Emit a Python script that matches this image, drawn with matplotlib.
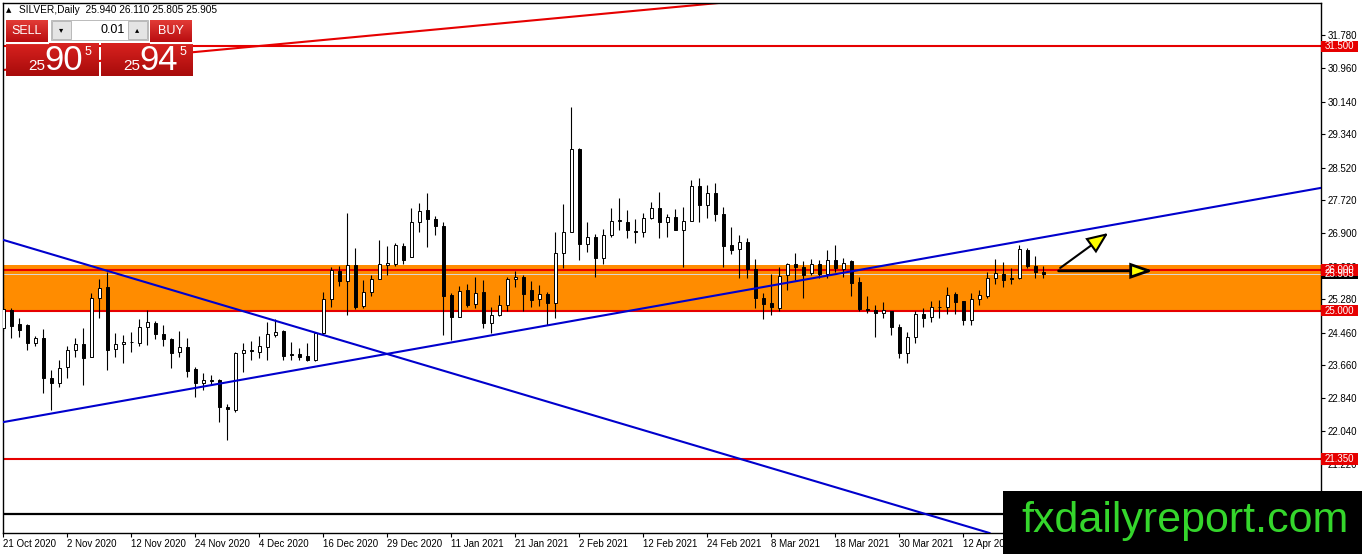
import numpy as np
import matplotlib
matplotlib.use("Agg")
import matplotlib.pyplot as plt
from matplotlib.patches import Rectangle, FancyArrowPatch
from matplotlib.colors import LinearSegmentedColormap

plt.rcParams['font.family'] = ['Liberation Sans', 'DejaVu Sans']

# daily candles, SILVER 21 Oct 2020 .. 26 Apr 2021
opens = [
    24.57, 25.02, 24.67, 24.64, 24.21, 24.32, 23.34, 23.21, 23.61, 24.03,
    24.17, 23.85, 25.30, 25.57, 24.05, 24.17, 24.23, 24.21, 24.59, 24.69,
    24.43, 24.30, 23.98, 24.11, 23.57, 23.21, 23.28, 23.29, 22.64, 22.56,
    23.95, 24.04, 23.99, 24.11, 24.40, 24.50, 23.94, 23.94, 23.89, 23.79,
    24.44, 25.28, 25.98, 25.74, 26.12, 25.12, 25.47, 25.77, 26.12, 26.16,
    26.59, 26.31, 27.17, 27.48, 27.25, 27.08, 25.39, 24.84, 25.51, 25.17,
    25.45, 24.69, 24.89, 25.15, 25.77, 25.84, 25.51, 25.28, 25.40, 25.20,
    26.43, 26.94, 28.98, 26.63, 26.82, 26.30, 26.86, 27.20, 27.19, 26.95,
    26.94, 27.27, 27.53, 27.17, 27.31, 26.98, 27.21, 28.07, 27.60, 27.89,
    27.38, 26.61, 26.51, 26.70, 26.02, 25.30, 25.20, 25.06, 25.87, 26.16,
    26.07, 25.92, 26.16, 25.90, 26.25, 26.02, 26.23, 25.71, 25.03, 25.02,
    24.95, 24.98, 24.59, 23.95, 24.35, 24.92, 24.85, 25.10, 25.10, 25.40,
    25.24, 24.77, 25.28, 25.36, 25.80, 25.89, 25.81, 25.80, 26.49, 26.11,
    25.94]
highs = [
    25.30, 25.06, 24.81, 24.66, 24.38, 24.54, 23.54, 23.79, 24.12, 24.34,
    24.57, 25.43, 25.79, 25.96, 24.44, 24.40, 24.48, 24.79, 25.02, 24.75,
    24.65, 24.32, 24.51, 24.34, 23.62, 23.47, 23.42, 23.31, 22.70, 23.99,
    24.20, 24.26, 24.38, 24.73, 24.79, 24.53, 24.24, 24.08, 24.20, 24.48,
    25.47, 26.07, 26.10, 27.40, 26.53, 25.76, 25.88, 26.74, 26.58, 26.66,
    26.67, 27.52, 27.64, 27.89, 27.33, 27.19, 25.43, 25.61, 25.66, 25.84,
    25.75, 25.10, 25.39, 25.84, 25.98, 25.88, 25.73, 25.62, 25.47, 26.94,
    27.62, 30.02, 28.99, 27.17, 26.88, 27.01, 27.53, 27.76, 27.48, 27.25,
    27.39, 27.68, 27.91, 27.37, 27.50, 27.56, 28.21, 28.27, 28.09, 28.15,
    27.54, 27.05, 26.86, 26.78, 26.26, 25.43, 25.90, 26.08, 26.18, 26.41,
    26.21, 26.26, 26.25, 26.48, 26.62, 26.29, 26.25, 25.82, 25.35, 25.14,
    25.21, 24.99, 24.67, 24.48, 24.98, 25.06, 25.25, 25.26, 25.57, 25.47,
    25.25, 25.43, 25.51, 25.94, 26.27, 26.20, 26.06, 26.62, 26.55, 26.35,
    26.11]
lows = [
    24.50, 24.32, 24.36, 24.03, 24.13, 22.97, 22.56, 23.13, 23.34, 23.85,
    23.17, 23.85, 24.81, 23.54, 23.85, 23.72, 23.99, 24.12, 24.16, 24.30,
    24.13, 23.58, 23.85, 23.38, 22.88, 23.05, 23.17, 22.27, 21.82, 22.52,
    23.50, 23.79, 23.83, 23.79, 24.36, 23.79, 23.79, 23.79, 23.75, 23.75,
    24.43, 25.10, 25.61, 24.89, 25.03, 25.06, 25.36, 25.77, 25.88, 26.10,
    26.15, 26.31, 26.94, 26.56, 26.86, 24.40, 24.28, 24.84, 25.08, 25.06,
    24.57, 24.44, 24.88, 24.98, 25.57, 24.98, 25.10, 25.12, 24.65, 24.81,
    26.04, 26.94, 26.25, 26.44, 25.84, 26.14, 26.80, 26.98, 26.78, 26.66,
    26.80, 27.25, 26.78, 26.82, 26.98, 26.08, 27.20, 27.19, 27.27, 27.21,
    26.08, 26.39, 25.80, 25.80, 25.06, 24.79, 24.89, 24.98, 25.51, 25.75,
    25.32, 25.88, 25.80, 25.80, 25.96, 25.84, 25.36, 24.98, 24.95, 24.36,
    24.81, 24.40, 23.83, 23.72, 24.20, 24.59, 24.71, 24.81, 24.93, 24.93,
    24.65, 24.65, 25.14, 25.30, 25.65, 25.59, 25.65, 25.78, 26.04, 25.80,
    25.805]
closes = [
    25.05, 24.62, 24.52, 24.21, 24.32, 23.34, 23.21, 23.58, 24.03, 24.17,
    23.83, 25.30, 25.55, 24.03, 24.17, 24.23, 24.24, 24.59, 24.72, 24.43,
    24.30, 23.97, 24.10, 23.52, 23.21, 23.29, 23.29, 22.64, 22.57, 23.95,
    24.03, 24.01, 24.13, 24.43, 24.48, 23.89, 23.90, 23.87, 23.79, 24.44,
    25.28, 26.00, 25.74, 26.12, 25.08, 25.47, 25.77, 26.16, 26.18, 26.62,
    26.25, 27.17, 27.46, 27.25, 27.08, 25.36, 24.84, 25.49, 25.14, 25.44,
    24.69, 24.89, 25.15, 25.78, 25.84, 25.42, 25.27, 25.40, 25.20, 26.43,
    26.93, 28.98, 26.63, 26.82, 26.29, 26.85, 27.21, 27.22, 26.98, 26.94,
    27.29, 27.52, 27.17, 27.31, 26.98, 27.21, 28.07, 27.60, 27.89, 27.38,
    26.59, 26.49, 26.70, 26.02, 25.30, 25.16, 25.08, 25.85, 26.16, 26.07,
    25.88, 26.16, 25.90, 26.25, 26.04, 26.18, 25.69, 25.03, 25.01, 24.95,
    25.02, 24.59, 23.97, 24.35, 24.92, 24.83, 25.10, 25.08, 25.39, 25.22,
    24.77, 25.28, 25.38, 25.80, 25.92, 25.75, 25.78, 26.52, 26.11, 25.96,
    25.905]

date_labels = ["21 Oct 2020", "2 Nov 2020", "12 Nov 2020", "24 Nov 2020", "4 Dec 2020",
               "16 Dec 2020", "29 Dec 2020", "11 Jan 2021", "21 Jan 2021", "2 Feb 2021",
               "12 Feb 2021", "24 Feb 2021", "8 Mar 2021", "18 Mar 2021", "30 Mar 2021",
               "12 Apr 2021", "22 Apr 2021"]
label_step = 8
price_ticks = [31.78, 30.96, 30.14, 29.34, 28.52, 27.72, 26.90, 26.08,
               25.28, 24.46, 23.66, 22.84, 22.04, 21.22, 20.40]

# horizontal levels and drawn objects
red_levels = [31.50, 26.00, 25.00, 21.35]
zone = (24.97, 26.12)
bid = 25.905
black_level = 20.00
red_trend = [(0, 30.92), (89, 32.56)]
blue_down = [(0, 26.74), (92, 21.36)]
blue_up = [(0, 22.26), (164.7, 28.02)]
arrow_up = [(132.1, 26.05), (138.1, 26.91)]
arrow_flat = [(131.9, 25.98), (143.7, 25.98)]

W, H = 1362, 554
fig = plt.figure(figsize=(W / 100, H / 100), dpi=100)
fig.patch.set_facecolor("white")
ax = fig.add_axes([3 / W, 21 / H, 1318 / W, 530 / H])
ax.set_xlim(-0.04, 164.7)
ax.set_ylim(19.532, 32.567)

ax.axhspan(*zone, color="#ff8c00", lw=0, zorder=0.5)
ax.axhline(bid, color="#d9d9d9", lw=0.7, zorder=0.8)
for lv in red_levels:
    ax.axhline(lv, color="#e60000", lw=1.5, zorder=1)
ax.axhline(black_level, color="black", lw=1.6, zorder=1)
ax.axline(*red_trend, color="#e60000", lw=1.5, zorder=1)

# candles
o = np.array(opens); h = np.array(highs); l = np.array(lows); c = np.array(closes)
x = np.arange(len(o))
ax.vlines(x, l, h, color="black", lw=0.8, zorder=2)
up = c >= o
ax.bar(x, np.abs(c - o), bottom=np.minimum(o, c), width=0.45,
       color=np.where(up, "white", "black"), edgecolor="black", linewidth=0.7, zorder=3)

ax.axline(*blue_down, color="#0000cd", lw=1.5, zorder=4)
ax.axline(*blue_up, color="#0000cd", lw=1.5, zorder=4)

for (p0, p1), hl, hw, lw in [(arrow_up, 1.3, 0.55, 1.5), (arrow_flat, 1.3, 0.45, 2.0)]:
    ax.add_patch(FancyArrowPatch(p0, p1, arrowstyle=f"-|>,head_length={hl},head_width={hw}",
                                 mutation_scale=10, facecolor="#ffff00", edgecolor="black",
                                 lw=lw, zorder=5, shrinkA=0, shrinkB=0, joinstyle="miter"))

# axes styling
for s in ax.spines.values():
    s.set_color("black"); s.set_linewidth(1)
ax.yaxis.tick_right()
ax.set_yticks(price_ticks)
ax.set_yticklabels([f"{t:.3f}" for t in price_ticks])
ax.tick_params(axis="y", length=3, width=0.8, pad=2, labelsize=7)
ticks_x = [i * label_step for i in range(len(date_labels))]
ax.set_xticks(ticks_x)
ax.set_xticklabels(date_labels, ha="left")
ax.tick_params(axis="x", length=3, width=0.8, pad=1, labelsize=7)

# price tags on the right scale
tag_h = 5.6 / 40.66
for lv, col in [(bid, "black"), (31.50, "#e60000"), (26.00, "#e60000"),
                (25.00, "#e60000"), (21.35, "#e60000")]:
    ax.add_patch(Rectangle((1.0, lv - tag_h), 37 / 1318, 2 * tag_h, transform=ax.get_yaxis_transform(),
                           facecolor=col, edgecolor="none", clip_on=False, zorder=6))
    ax.text(1.0 + 4 / 1318, lv, f"{lv:.3f}", transform=ax.get_yaxis_transform(), color="white",
            fontsize=7, va="center", ha="left", zorder=7, clip_on=False)

# overlay for trade panel and watermark (pixel coords)
ov = fig.add_axes([0, 0, 1, 1], zorder=10)
ov.set_xlim(0, W); ov.set_ylim(H, 0); ov.axis("off")


def red_box(x0, y0, x1, y1, c0="#e23b36", c1="#b90d10"):
    cm = LinearSegmentedColormap.from_list("r", [c0, c1])
    ov.imshow(np.linspace(0, 1, 40).reshape(-1, 1), extent=(x0, x1, y1, y0), cmap=cm,
              aspect="auto", zorder=2)


ov.text(6, 10, "▲", fontsize=5, va="center", ha="left", family=["DejaVu Sans"])
ov.text(19, 10, "SILVER,Daily  25.940 26.110 25.805 25.905", fontsize=7.3, va="center", ha="left")
red_box(6, 20, 48, 42)
red_box(150, 20, 192, 42)
ov.text(27, 31, "SELL", color="white", fontsize=9, ha="center", va="center", zorder=3)
ov.text(171, 31, "BUY", color="white", fontsize=9, ha="center", va="center", zorder=3)
ov.add_patch(Rectangle((51, 20), 97, 20, facecolor="white", edgecolor="#b0b0b0", lw=0.6, zorder=2))
ov.add_patch(Rectangle((52, 21), 19, 18, facecolor="#e4e4e4", edgecolor="#b0b0b0", lw=0.6, zorder=3))
ov.add_patch(Rectangle((128, 21), 19, 18, facecolor="#e4e4e4", edgecolor="#b0b0b0", lw=0.6, zorder=3))
ov.text(61.5, 30, "▾", fontsize=6, ha="center", va="center", zorder=4, family=["DejaVu Sans"])
ov.text(137.5, 30, "▴", fontsize=6, ha="center", va="center", zorder=4, family=["DejaVu Sans"])
ov.text(125, 30, "0.01", fontsize=9, ha="right", va="center", zorder=4)
red_box(6, 43, 99, 76, "#d8221f", "#a80b0b")
red_box(101, 43, 193, 76, "#d8221f", "#a80b0b")
for x0, big in [(28, "90"), (123, "94")]:
    ov.text(x0, 70, "25", color="white", fontsize=11, ha="left", va="baseline", zorder=3)
    ov.text(x0 + 16, 70, big, color="white", fontsize=25, ha="left", va="baseline", zorder=3)
    ov.text(x0 + 57, 55, "5", color="white", fontsize=9, ha="left", va="baseline", zorder=3)
ov.plot([6, 48], [42.5, 42.5], color="white", lw=0.8, zorder=3)
ov.plot([150, 192], [42.5, 42.5], color="white", lw=0.8, zorder=3)

ov.add_patch(Rectangle((1003, 491), W - 1003, H - 491, facecolor="black", edgecolor="none", zorder=5))
ov.text(1185, 532, "fxdailyreport.com", color="#35d62c", fontsize=31, ha="center",
        va="baseline", zorder=6)
ov.set_xlim(0, W); ov.set_ylim(H, 0)

fig.savefig("out.png", dpi=100)
